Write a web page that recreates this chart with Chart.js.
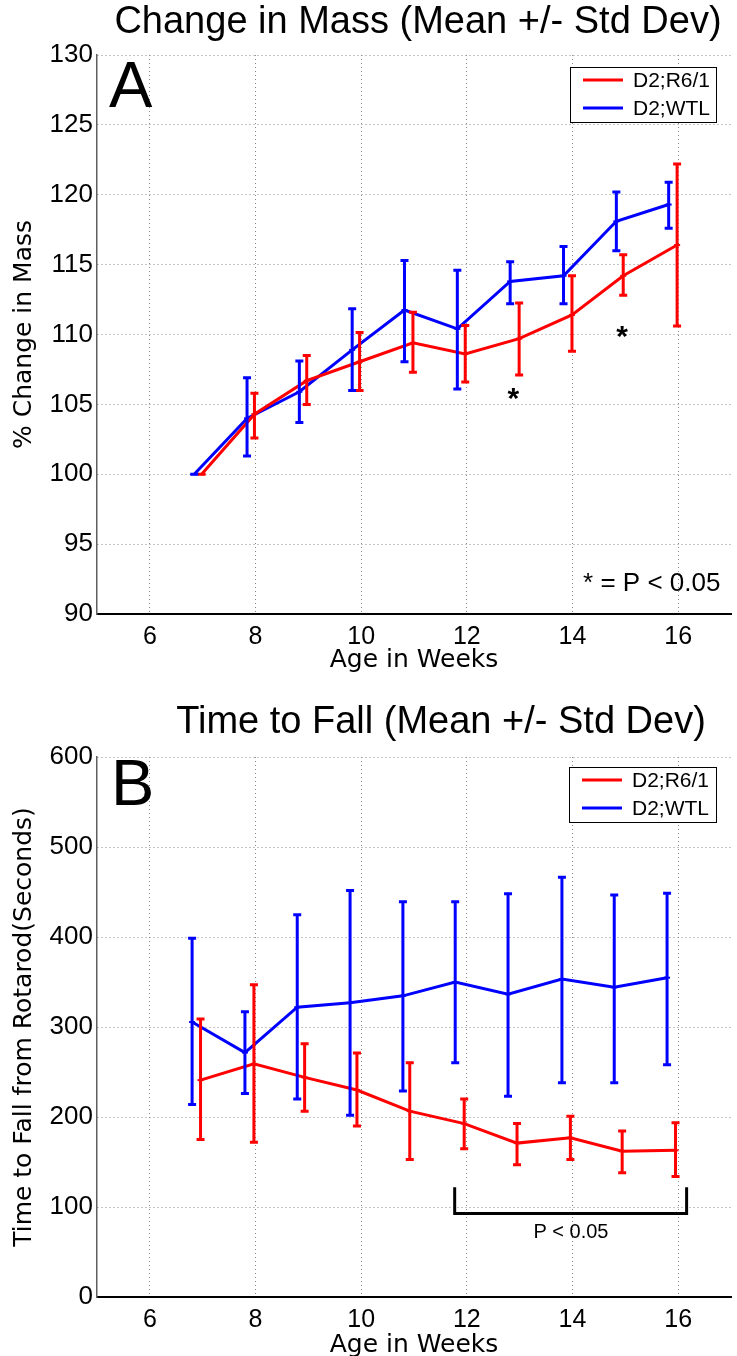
<!DOCTYPE html>
<html>
<head>
<meta charset="utf-8">
<script src="https://cdn.jsdelivr.net/npm/chart.js@4.4.1/dist/chart.umd.min.js"></script>
<style>
    html, body { margin: 0; padding: 0; background: #fff; overflow: hidden; }
    .panel { position: absolute; left: 0; width: 737px; }
    #panelA { top: 0; height: 680px; }
    #panelB { top: 680px; height: 690px; }
</style>
</head>
<body>
<div class="panel" id="panelA"><canvas id="massChart" width="737" height="680"></canvas></div>
<div class="panel" id="panelB"><canvas id="rotarodChart" width="737" height="690"></canvas></div>
<script>
/* ================================
   DATA
   ================================ */

// Shared axis ticks
const weekTicks = [6, 8, 10, 12, 14, 16];
const massTicks = [90, 95, 100, 105, 110, 115, 120, 125, 130];
const rotarodTicks = [0, 100, 200, 300, 400, 500, 600];

// Panel A - % change in mass
const massWeeksR6 = [6.98, 7.98, 8.97, 9.97, 10.98, 11.97, 12.99, 13.99, 14.96, 15.98];
const massMeanR6 = [100.0, 104.3, 106.7, 108.05, 109.4, 108.6, 109.7, 111.4, 114.2, 116.4];
const massLowR6 = [100.0, 102.6, 105.0, 106.0, 107.3, 106.6, 107.1, 108.8, 112.8, 110.6];
const massHighR6 = [100.0, 105.8, 108.5, 110.15, 111.6, 110.65, 112.25, 114.2, 115.7, 122.2];

const massWeeksWtl = [6.84, 7.84, 8.83, 9.83, 10.82, 11.82, 12.82, 13.83, 14.83, 15.82];
const massMeanWtl = [100.0, 104.0, 105.9, 108.9, 111.75, 110.4, 113.8, 114.2, 118.1, 119.3];
const massLowWtl = [100.0, 101.3, 103.7, 106.0, 108.05, 106.1, 112.2, 112.2, 116.0, 117.6];
const massHighWtl = [100.0, 106.9, 108.1, 111.85, 115.3, 114.6, 115.2, 116.3, 120.2, 120.9];

// Significance markers on panel A (week, value)
const massStarWeeks = [12.88, 14.94];
const massStarValues = [105.5, 110.0];

// Panel B - time to fall from rotarod (seconds)
const fallWeeksR6 = [6.96, 7.97, 8.93, 9.92, 10.92, 11.95, 12.95, 13.96, 14.94, 15.95];
const fallMeanR6 = [241, 259, 244, 230, 206.5, 192.7, 171, 177, 162, 163];
const fallLowR6 = [175, 172, 206.5, 190, 152.7, 164.7, 147, 152.7, 138, 134];
const fallHighR6 = [309, 347, 281.5, 271, 260.4, 220, 192.7, 200.7, 184.4, 193.5];

const fallWeeksWtl = [6.80, 7.80, 8.79, 9.79, 10.79, 11.78, 12.78, 13.80, 14.79, 15.79];
const fallMeanWtl = [305.5, 271.6, 322, 327, 334.6, 350, 336.4, 353.3, 344.1, 354.8];
const fallLowWtl = [214, 226, 220, 202, 229, 260.4, 223, 238, 238, 258];
const fallHighWtl = [398.5, 317, 424.6, 451.8, 439.3, 439.3, 448, 466.5, 446.7, 448.5];

// Significance bracket on panel B (weeks span, values)
const bracketWeeks = [11.77, 16.16];
const bracketValues = [121.9, 92.7];

/* ================================
   STYLE
   ================================ */
const RED = '#ff0000';
const BLUE = '#0000ff';
const SANS = "'Liberation Sans', Arial, sans-serif";
const LABEL_FONT = "'DejaVu Sans', sans-serif";

function seriesPoints(xs, ys) {
    return xs.map((x, i) => ({ x: x, y: ys[i] }));
}

function makeDataset(label, color, xs, mean, low, high) {
    return {
        label: label,
        data: seriesPoints(xs, mean),
        errLow: low,
        errHigh: high,
        showLine: true,
        borderColor: color,
        backgroundColor: color,
        borderWidth: 3,
        pointStyle: 'line',
        pointRadius: 3,
        pointBorderWidth: 2,
        tension: 0
    };
}

// Draws error bars, legend, title, panel letter and notes
function panelPlugin(cfg) {
    return {
        id: 'panelDecor',
        afterDatasetsDraw(chart) {
            const ctx = chart.ctx;
            const xs = chart.scales.x;
            const ys = chart.scales.y;

            // error bars
            chart.data.datasets.forEach(ds => {
                ctx.save();
                ctx.strokeStyle = ds.borderColor;
                ctx.lineWidth = 3;
                ds.data.forEach((p, i) => {
                    const px = xs.getPixelForValue(p.x);
                    const top = ys.getPixelForValue(ds.errHigh[i]);
                    const bot = ys.getPixelForValue(ds.errLow[i]);
                    ctx.beginPath();
                    ctx.moveTo(px, top); ctx.lineTo(px, bot);
                    ctx.moveTo(px - 4, top); ctx.lineTo(px + 4, top);
                    ctx.moveTo(px - 4, bot); ctx.lineTo(px + 4, bot);
                    ctx.stroke();
                });
                ctx.restore();
            });

            ctx.save();
            ctx.fillStyle = '#000';
            ctx.textAlign = 'center';
            ctx.textBaseline = 'alphabetic';

            // title
            ctx.font = '38px ' + SANS;
            ctx.fillText(cfg.title, cfg.titleX, cfg.titleY);

            // panel letter
            ctx.textAlign = 'left';
            ctx.font = '65px ' + SANS;
            ctx.fillText(cfg.letter, cfg.letterX, cfg.letterY);

            // legend
            const lg = cfg.legend;
            ctx.fillStyle = '#fff';
            ctx.fillRect(lg.x, lg.y, lg.w, lg.h);
            ctx.strokeStyle = '#000';
            ctx.lineWidth = 1;
            ctx.strokeRect(lg.x + 0.5, lg.y + 0.5, lg.w, lg.h);
            ctx.font = '21px ' + SANS;
            ctx.textBaseline = 'middle';
            chart.data.datasets.forEach((ds, i) => {
                const rowY = lg.y + 13 + i * 28;
                ctx.strokeStyle = ds.borderColor;
                ctx.lineWidth = 3;
                ctx.beginPath();
                ctx.moveTo(lg.x + 13, rowY);
                ctx.lineTo(lg.x + 53, rowY);
                ctx.stroke();
                ctx.fillStyle = '#000';
                ctx.fillText(ds.label, lg.x + 63, rowY + 1);
            });

            if (cfg.extra) cfg.extra(ctx, xs, ys);
            ctx.restore();
        }
    };
}

function makePanel(canvasId, datasets, cfg) {
    const canvas = document.getElementById(canvasId);
    return new Chart(canvas, {
        type: 'scatter',
        data: { datasets: datasets },
        options: {
            responsive: false,
            animation: false,
            devicePixelRatio: 1,
            layout: { padding: { top: cfg.plotTop, right: 2, left: 0, bottom: 0 } },
            plugins: {
                legend: { display: false },
                tooltip: { enabled: false }
            },
            scales: {
                x: {
                    type: 'linear',
                    min: 5,
                    max: 17,
                    afterBuildTicks: s => { s.ticks = weekTicks.map(v => ({ value: v })); },
                    afterFit: s => { s.height = cfg.xAxisHeight; },
                    grid: { color: '#8a8a8a', lineWidth: 1, drawTicks: false },
                    border: { display: true, color: '#000', width: 2, dash: [1, 3] },
                    ticks: {
                        color: '#000',
                        font: { family: SANS, size: 25 },
                        padding: 8,
                        maxRotation: 0,
                        autoSkip: false
                    },
                    title: {
                        display: true,
                        text: 'Age in Weeks',
                        color: '#000',
                        font: { family: LABEL_FONT, size: 25 },
                        padding: { top: 0, bottom: cfg.xTitlePad }
                    }
                },
                y: {
                    type: 'linear',
                    min: cfg.yTicks[0],
                    max: cfg.yTicks[cfg.yTicks.length - 1],
                    afterBuildTicks: s => { s.ticks = cfg.yTicks.map(v => ({ value: v })); },
                    afterFit: s => { s.width = 97; },
                    grid: { color: '#8a8a8a', lineWidth: 1, drawTicks: false },
                    border: { display: true, color: '#606060', width: 1.5, dash: [1, 3] },
                    ticks: {
                        color: '#000',
                        font: { family: SANS, size: 26 },
                        padding: 4,
                        autoSkip: false
                    },
                    title: {
                        display: true,
                        text: cfg.yTitle,
                        color: '#000',
                        font: { family: LABEL_FONT, size: 25 },
                        padding: { top: 9, bottom: 0 }
                    }
                }
            }
        },
        plugins: [panelPlugin(cfg)]
    });
}

document.addEventListener('DOMContentLoaded', function() {
    // Panel A
    makePanel('massChart', [
        makeDataset('D2;R6/1', RED, massWeeksR6, massMeanR6, massLowR6, massHighR6),
        makeDataset('D2;WTL', BLUE, massWeeksWtl, massMeanWtl, massLowWtl, massHighWtl)
    ], {
        plotTop: 55,
        xAxisHeight: 66,
        xTitlePad: 5,
        yTicks: massTicks,
        yTitle: '% Change in Mass',
        title: 'Change in Mass (Mean +/- Std Dev)',
        titleX: 418,
        titleY: 33,
        letter: 'A',
        letterX: 109,
        letterY: 107,
        legend: { x: 570, y: 67, w: 146, h: 55 },
        extra: function(ctx, xs, ys) {
            ctx.fillStyle = '#000';
            ctx.textAlign = 'center';
            ctx.textBaseline = 'alphabetic';
            ctx.font = 'bold 30px ' + SANS;
            massStarWeeks.forEach((w, i) => {
                ctx.fillText('*', xs.getPixelForValue(w), ys.getPixelForValue(massStarValues[i]) + 11);
            });
            ctx.font = '26px ' + SANS;
            ctx.textAlign = 'right';
            ctx.fillText('* = P < 0.05', xs.getPixelForValue(16.8), ys.getPixelForValue(91.65));
        }
    });

    // Panel B
    makePanel('rotarodChart', [
        makeDataset('D2;R6/1', RED, fallWeeksR6, fallMeanR6, fallLowR6, fallHighR6),
        makeDataset('D2;WTL', BLUE, fallWeeksWtl, fallMeanWtl, fallLowWtl, fallHighWtl)
    ], {
        plotTop: 77,
        xAxisHeight: 73,
        xTitlePad: 10,
        yTicks: rotarodTicks,
        yTitle: 'Time to Fall from Rotarod(Seconds)',
        title: 'Time to Fall (Mean +/- Std Dev)',
        titleX: 441,
        titleY: 53,
        letter: 'B',
        letterX: 111,
        letterY: 125,
        legend: { x: 569, y: 87, w: 147, h: 55 },
        extra: function(ctx, xs, ys) {
            const x1 = xs.getPixelForValue(bracketWeeks[0]);
            const x2 = xs.getPixelForValue(bracketWeeks[1]);
            const yTop = ys.getPixelForValue(bracketValues[0]);
            const yBot = ys.getPixelForValue(bracketValues[1]);
            ctx.strokeStyle = '#000';
            ctx.lineWidth = 3;
            ctx.beginPath();
            ctx.moveTo(x1, yTop);
            ctx.lineTo(x1, yBot);
            ctx.lineTo(x2, yBot);
            ctx.lineTo(x2, yTop);
            ctx.stroke();
            ctx.fillStyle = '#000';
            ctx.textAlign = 'center';
            ctx.textBaseline = 'middle';
            ctx.font = '20px ' + SANS;
            ctx.fillText('P < 0.05', xs.getPixelForValue(13.97), ys.getPixelForValue(72));
        }
    });
});
</script>
</body>
</html>
